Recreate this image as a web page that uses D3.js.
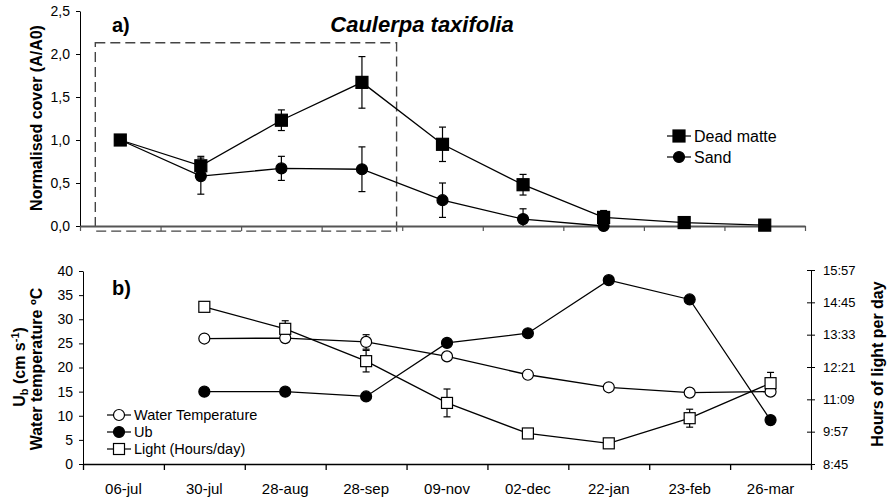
<!DOCTYPE html>
<html>
<head>
<meta charset="utf-8">
<script src="https://cdn.jsdelivr.net/npm/d3@7"></script>
<style>
  html, body { margin: 0; padding: 0; background: #fff; }
  svg { display: block; font-family: Arial, "Liberation Sans", sans-serif; }
</style>
</head>
<body>
<svg id="chart" width="889" height="497"></svg>
<script>
// ---- data ----
const categories = ['06-jul', '30-jul', '28-aug', '28-sep', '09-nov', '02-dec', '22-jan', '23-feb', '26-mar'];

// panel a: normalised cover (A/A0)
const deadMatte    = [1.00, 0.70, 1.23, 1.67, 0.95, 0.48, 0.10, 0.04, 0.01];
const deadMatteErr = [0,    0.11, 0.12, 0.30, 0.20, 0.12, 0.08, 0,    0];
const sand         = [1.00, 0.58, 0.67, 0.66, 0.30, 0.08, 0.00, null, null];
const sandErr      = [0,    0.21, 0.14, 0.26, 0.20, 0.12, 0,    null, null];
const coverTicks   = [0, 0.5, 1.0, 1.5, 2.0, 2.5];
const coverTickLabels = ['0,0', '0,5', '1,0', '1,5', '2,0', '2,5'];

// panel b: water temperature (ºC), Ub (cm s-1), light (h:mm per day)
const waterTemp    = [null, 26.0, 26.1, 25.3, 22.3, 18.5, 15.9, 14.8, 15.0];
const waterTempErr = [null, 0,    0,    1.5,  0,    0,    0,    0,    0];
const ub           = [null, 15.0, 15.0, 14.0, 25.1, 27.1, 38.1, 34.1, 9.1];
const light        = [null, '14:35', '13:46', '12:34', '11:01', '9:53', '9:31', '10:27', '11:45'];
const lightErrMin  = [null, 0, 18, 24, 31, 0, 0, 20, 24];
const leftTicks    = [0, 5, 10, 15, 20, 25, 30, 35, 40];
const lightTickLabels = ['8:45', '9:57', '11:09', '12:21', '13:33', '14:45', '15:57'];

const toMin = s => { const [h, m] = s.split(':').map(Number); return h * 60 + m; };

const svg = d3.select('#chart');

// helpers
// error bars are cut off at the bottom of the value axis
function errorBars(g, x, y, vals, errs, cap) {
  const floor = y.domain()[0];
  vals.forEach((v, i) => {
    const e = errs[i];
    if (v == null || !e) return;
    const cx = x(i);
    const lo = Math.max(v - e, floor);
    g.append('line').attr('x1', cx).attr('x2', cx).attr('y1', y(v + e)).attr('y2', y(lo))
      .attr('stroke', '#000').attr('stroke-width', 1.2);
    const caps = v - e >= floor ? [v + e, v - e] : [v + e];
    caps.forEach(t => {
      g.append('line').attr('x1', cx - cap).attr('x2', cx + cap).attr('y1', y(t)).attr('y2', y(t))
        .attr('stroke', '#000').attr('stroke-width', 1.2);
    });
  });
}
function seriesLine(g, x, y, vals) {
  const pts = vals.map((v, i) => [i, v]).filter(d => d[1] != null);
  g.append('path')
    .attr('d', d3.line().x(d => x(d[0])).y(d => y(d[1]))(pts))
    .attr('fill', 'none').attr('stroke', '#000').attr('stroke-width', 1.3);
  return pts;
}
function drawMarkers(g, pts, x, y, shape, size, fill) {
  pts.forEach(d => {
    const cx = x(d[0]), cy = y(d[1]);
    if (shape === 'square') {
      g.append('rect').attr('x', cx - size / 2).attr('y', cy - size / 2)
        .attr('width', size).attr('height', size)
        .attr('fill', fill).attr('stroke', '#000').attr('stroke-width', 1.2);
    } else {
      g.append('circle').attr('cx', cx).attr('cy', cy).attr('r', size / 2)
        .attr('fill', fill).attr('stroke', '#000').attr('stroke-width', 1.2);
    }
  });
}
function legendItem(g, x0, y0, shape, fill, label, size, fontSize) {
  g.append('line').attr('x1', x0).attr('x2', x0 + 24).attr('y1', y0).attr('y2', y0)
    .attr('stroke', '#000').attr('stroke-width', 1.2);
  drawMarkers(g, [[0, 0]], () => x0 + 12, () => y0, shape, size, fill);
  g.append('text').attr('x', x0 + 27).attr('y', y0).attr('dy', '0.36em')
    .attr('font-size', fontSize).attr('fill', '#000').text(label);
}

// ================= panel a =================
const ga = svg.append('g');
const axBand = d3.scaleBand().domain(categories).range([80, 805]);
const axIdx = d3.scaleLinear().domain([0, categories.length]).range([80, 805]);
const axC = i => axBand(categories[i]) + axBand.bandwidth() / 2;
const ay = d3.scaleLinear().domain([0, 2.5]).range([226, 11]);

// dashed outline around the first four sampling dates
ga.append('rect')
  .attr('x', axIdx(0.19)).attr('y', ay(2.13))
  .attr('width', axIdx(3.93) - axIdx(0.19)).attr('height', ay(-0.06) - ay(2.13))
  .attr('fill', 'none').attr('stroke', '#444').attr('stroke-width', 1.4)
  .attr('stroke-dasharray', '10,5');

// y axis
const ayAxis = ga.append('g').attr('transform', 'translate(80,0)')
  .call(d3.axisLeft(ay).tickValues(coverTicks).tickSizeInner(4).tickSizeOuter(0).tickPadding(6)
    .tickFormat((d, i) => coverTickLabels[i]));
ayAxis.selectAll('text').attr('font-size', 14).attr('fill', '#000').attr('font-family', 'Arial, "Liberation Sans", sans-serif');
ayAxis.selectAll('line,path').attr('stroke', '#000');

// x axis (tick marks at date boundaries, no labels)
const axAxis = ga.append('g').attr('transform', 'translate(0,226)')
  .call(d3.axisBottom(axIdx).tickValues(d3.range(0, categories.length + 1)).tickSizeInner(5).tickSizeOuter(0).tickFormat(''));
axAxis.select('.domain').attr('stroke', '#555').attr('stroke-width', 2);
axAxis.selectAll('.tick line').attr('stroke', '#555').attr('stroke-width', 1.2);

// series
errorBars(ga, axC, ay, deadMatte, deadMatteErr, 3.5);
errorBars(ga, axC, ay, sand, sandErr, 3.5);
const dmPts = seriesLine(ga, axC, ay, deadMatte);
const sdPts = seriesLine(ga, axC, ay, sand);
drawMarkers(ga, dmPts, axC, ay, 'square', 12, '#000');
drawMarkers(ga, sdPts, axC, ay, 'circle', 11, '#000');

// labels
ga.append('text').attr('x', 112).attr('y', 32).attr('font-size', 20).attr('font-weight', 'bold').text('a)');
ga.append('text').attr('x', 422).attr('y', 32).attr('text-anchor', 'middle')
  .attr('font-size', 22).attr('font-weight', 'bold').attr('font-style', 'italic').text('Caulerpa taxifolia');
ga.append('text').attr('transform', 'translate(42,118) rotate(-90)').attr('text-anchor', 'middle')
  .attr('font-size', 16).attr('font-weight', 'bold').text('Normalised cover (A/A0)');

const la = ga.append('g');
legendItem(la, 667, 136, 'square', '#000', 'Dead matte', 12, 16);
legendItem(la, 667, 157, 'circle', '#000', 'Sand', 11, 16);

// ================= panel b =================
const gb = svg.append('g');
const bxBand = d3.scaleBand().domain(categories).range([83, 811]);
const bxIdx = d3.scaleLinear().domain([0, categories.length]).range([83, 811]);
const bxC = i => bxBand(categories[i]) + bxBand.bandwidth() / 2;
const byL = d3.scaleLinear().domain([0, 40]).range([464, 271]);
const lightTicks = lightTickLabels.map(toMin);
const byR = d3.scaleLinear().domain([lightTicks[0], lightTicks[lightTicks.length - 1]]).range([464, 270]);

const blAxis = gb.append('g').attr('transform', 'translate(83,0)')
  .call(d3.axisLeft(byL).tickValues(leftTicks).tickSizeInner(4).tickSizeOuter(0).tickPadding(6));
blAxis.selectAll('text').attr('font-size', 14).attr('fill', '#000').attr('font-family', 'Arial, "Liberation Sans", sans-serif');
blAxis.selectAll('line,path').attr('stroke', '#000');

const brAxis = gb.append('g').attr('transform', 'translate(811,0)')
  .call(d3.axisRight(byR).tickValues(lightTicks).tickSizeInner(4).tickSizeOuter(0).tickPadding(8)
    .tickFormat((d, i) => lightTickLabels[i]));
brAxis.selectAll('.tick line').attr('x1', -4).attr('x2', 4);
brAxis.selectAll('text').attr('font-size', 13).attr('fill', '#000').attr('font-family', 'Arial, "Liberation Sans", sans-serif');
brAxis.selectAll('line,path').attr('stroke', '#000');

const bxAxis = gb.append('g').attr('transform', 'translate(0,464)')
  .call(d3.axisBottom(bxIdx).tickValues(d3.range(0, categories.length + 1)).tickSizeInner(6).tickSizeOuter(0).tickFormat(''));
bxAxis.selectAll('line,path').attr('stroke', '#000').attr('stroke-width', 1.3);
gb.append('g').selectAll('text').data(categories).join('text')
  .attr('x', (d, i) => bxC(i)).attr('y', 494).attr('text-anchor', 'middle')
  .attr('font-size', 15).attr('fill', '#000').text(d => d);

// series
errorBars(gb, bxC, byL, waterTemp, waterTempErr, 3.5);
const lightMin = light.map(s => s == null ? null : toMin(s));
errorBars(gb, bxC, byR, lightMin, lightErrMin, 3.5);
const wtPts = seriesLine(gb, bxC, byL, waterTemp);
const ubPts = seriesLine(gb, bxC, byL, ub);
const lgPts = seriesLine(gb, bxC, byR, lightMin);
drawMarkers(gb, wtPts, bxC, byL, 'circle', 11, '#fff');
drawMarkers(gb, ubPts, bxC, byL, 'circle', 11, '#000');
drawMarkers(gb, lgPts, bxC, byR, 'square', 11, '#fff');

// labels
gb.append('text').attr('x', 112).attr('y', 295).attr('font-size', 20).attr('font-weight', 'bold').text('b)');
const yl1 = gb.append('text').attr('transform', 'translate(25,367) rotate(-90)').attr('text-anchor', 'middle')
  .attr('font-size', 16).attr('font-weight', 'bold');
yl1.append('tspan').text('U');
yl1.append('tspan').attr('font-size', 11).attr('dy', 3).text('b');
yl1.append('tspan').attr('dy', -3).text(' (cm s');
yl1.append('tspan').attr('font-size', 11).attr('dy', -6).text('-1');
yl1.append('tspan').attr('dy', 6).text(')');
gb.append('text').attr('transform', 'translate(42,369) rotate(-90)').attr('text-anchor', 'middle')
  .attr('font-size', 16).attr('font-weight', 'bold').text('Water temperature ºC');
gb.append('text').attr('transform', 'translate(883,364) rotate(-90)').attr('text-anchor', 'middle')
  .attr('font-size', 16).attr('font-weight', 'bold').text('Hours of light per day');

const lb = gb.append('g');
legendItem(lb, 107, 415, 'circle', '#fff', 'Water Temperature', 11, 14.5);
legendItem(lb, 107, 432, 'circle', '#000', 'Ub', 11, 14.5);
legendItem(lb, 107, 449, 'square', '#fff', 'Light (Hours/day)', 11, 14.5);
</script>
</body>
</html>
